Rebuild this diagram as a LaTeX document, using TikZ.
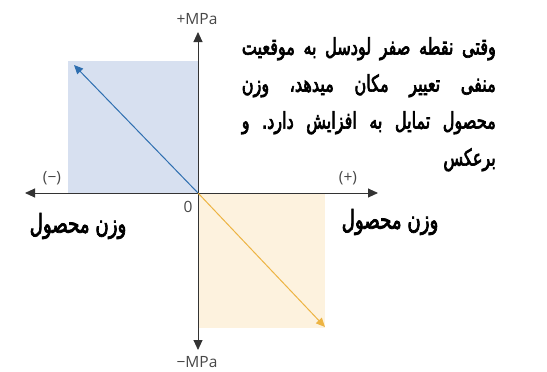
\documentclass[tikz,border=0pt]{standalone}
\usepackage{fontspec}
\setmainfont{Open Sans}
\newfontfamily\farsifont[Script=Arabic,FakeBold=2.8,FakeStretch=0.70]{DejaVu Sans}
\TeXXeTstate=1
\usetikzlibrary{arrows.meta,positioning}

\definecolor{bluefill}{HTML}{D7E0F0}
\definecolor{blueline}{HTML}{2F6FB0}
\definecolor{orangefill}{HTML}{FDF2DE}
\definecolor{orangeline}{HTML}{EDB443}
\definecolor{axisgray}{HTML}{333333}

\newcommand\faline[1]{\leavevmode\hbox to\linewidth{\beginR #1\endR}}

\tikzset{
  axis/.style={draw=axisgray,line width=0.9pt,-{Triangle[length=10pt,width=9pt]}},
  vec/.style={line width=1pt,-{Triangle[length=9pt,width=8pt]}},
  lab/.style={font=\fontsize{15.5}{16}\selectfont,text=axisgray!90,inner sep=1pt},
  fa/.style={font=\farsifont\fontsize{23}{37}\selectfont,inner sep=0pt},
  faword/.style={fa,font=\farsifont\fontsize{26}{30}\selectfont}
}

\begin{document}
\begin{tikzpicture}[x=1pt,y=-1pt]
  \useasboundingbox (0,0) rectangle (547,372);
  \coordinate (O) at (198,193);
  \coordinate (top) at (198,32);
  \coordinate (bot) at (198,350);
  \coordinate (lft) at (25,193);
  \coordinate (rgt) at (378,193);
  \coordinate (bluetip) at (74,65);
  \coordinate (orangetip) at (325,327);
  % shaded quadrants
  \fill[bluefill] (68,61) rectangle (O);
  \fill[orangefill] (O) rectangle (325,328);
  % axes
  \draw[axis] (O) -- (top);
  \draw[axis] (O) -- (bot);
  \draw[axis] (O) -- (lft);
  \draw[axis] (O) -- (rgt);
  % vectors
  \draw[vec,blueline] (O) -- (bluetip);
  \draw[vec,orangeline] (O) -- (orangetip);
  % axis labels
  \node[lab] (pmpa) at (197,19) {+MPa};
  \node[lab] (mmpa) at (197,362) {−MPa};
  \node[lab] (neg) at (52,178) {(−)};
  \node[lab] (pos) at (348,178) {(+)};
  \node[lab] (zero) at (188,207) {0};
  \node[faword] (wleft) at (78,226) {\beginR وزن محصول\endR};
  \node[faword] (wright) at (390,222) {\beginR وزن محصول\endR};
  % note
  \node[fa,anchor=north east,text width=254pt,align=right] (note) at (496,37) {%
    \faline{وقتی\hfill نقطه\hfill صفر\hfill لودسل\hfill به\hfill موقعیت}\\
    \faline{منفی\hfill تعییر\hfill مکان\hfill میدهد،\hfill وزن}\\
    \faline{محصول\hfill تمایل\hfill به\hfill افزایش\hfill دارد.\hfill و}\\
    \beginR برعکس\endR};
\end{tikzpicture}
\end{document}
